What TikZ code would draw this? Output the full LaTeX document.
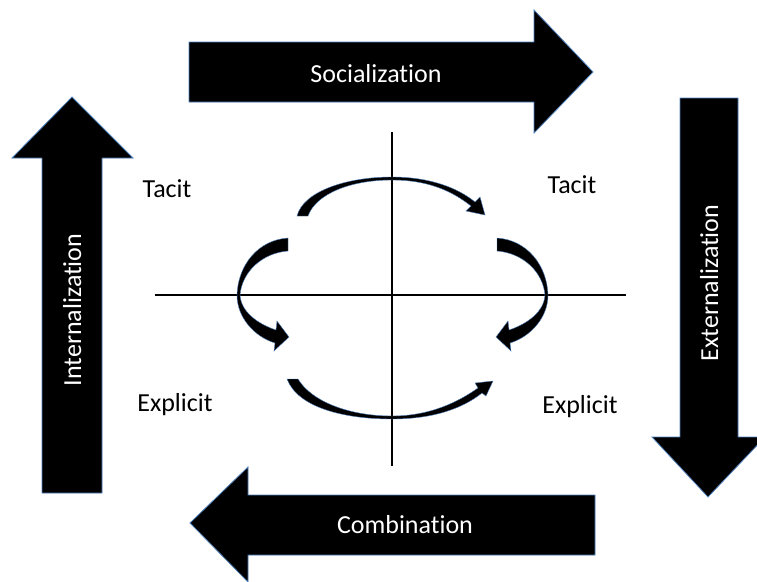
\documentclass[tikz,border=0pt]{standalone}
\usepackage{fontspec}
\setmainfont{Carlito}[Ligatures={NoCommon}]
\definecolor{edgeblue}{RGB}{79,129,189}
\tikzset{
  blockarrow/.style={fill=black, draw=edgeblue, line width=0.8pt, line join=miter},
  curl/.style={fill=black, draw=edgeblue, line width=0.4pt},
  lbl/.style={font=\fontsize{26}{31}\selectfont, anchor=base, inner sep=0pt},
  arrowlbl/.style={lbl, text=white},
  axis/.style={line width=1.3pt}
}
\begin{document}
\begin{tikzpicture}[x=1pt,y=-1pt]
    \useasboundingbox (0,0) rectangle (757,581);
    
    %Axes
    \coordinate (west) at (155,295);
    \coordinate (east) at (626,295);
    \coordinate (north) at (392,132);
    \coordinate (south) at (392,466);
    \draw[axis] (west) -- (east);
    \draw[axis] (north) -- (south);
    %Socialization
    \draw[blockarrow] (189,42) -- (534,42) -- (534,10) -- (593,72) -- (534,133) -- (534,102) -- (189,102) -- cycle;
    \node[arrowlbl] (soc) at (376,82) {Socialization};
    %Externalization
    \draw[blockarrow] (680,98) -- (738,98) -- (738,437) -- (765,437) -- (708,497) -- (652,437) -- (680,437) -- cycle;
    \node[arrowlbl, rotate=90] (ext) at (718,283) {Externalization};
    %Combination
    \draw[blockarrow] (595,495) -- (595,555) -- (248,555) -- (248,582) -- (190,523) -- (248,467) -- (248,495) -- cycle;
    \node[arrowlbl] (comb) at (405,533) {Combination};
    %Internalization
    \draw[blockarrow] (42,493) -- (42,158) -- (12,158) -- (72,97) -- (133,158) -- (102,158) -- (102,493) -- cycle;
    \node[arrowlbl, rotate=90] (int) at (81,310) {Internalization};
    %Labels
    \node[lbl] (tacitL) at (167,197) {Tacit};
    \node[lbl] (tacitR) at (572,193) {Tacit};
    \node[lbl] (explL) at (175,411) {Explicit};
    \node[lbl] (explR) at (580,413) {Explicit};
    %Top curl
    \draw[curl] (297,216) .. controls (303,192) and (345,177) .. (392,177) .. controls (430,177) and (458,188) .. (475,202) -- (480,197) -- (485,215) -- (466,211) -- (471,206) .. controls (452,191) and (428,180) .. (392,180) .. controls (350,180) and (316,194) .. (308,216) -- cycle;
    %Left curl
    \draw[curl] (288,238) .. controls (258,240) and (238,265) .. (237,295) .. controls (237,318) and (255,337) .. (275,343) -- (274,351) -- (289,337) -- (277,321) -- (276,330) .. controls (258,324) and (241,312) .. (240,295) .. controls (242,272) and (262,253) .. (288,251) -- cycle;
    %Right curl
    \draw[curl] (497,238) .. controls (527,240) and (547,265) .. (548,295) .. controls (548,318) and (530,337) .. (510,343) -- (511,351) -- (496,337) -- (508,321) -- (509,330) .. controls (527,324) and (544,312) .. (545,295) .. controls (543,272) and (523,253) .. (497,251) -- cycle;
    %Bottom curl
    \draw[curl] (287,379) -- (298,379) .. controls (312,402) and (350,416) .. (392,416) .. controls (430,416) and (458,402) .. (478,388) -- (475,383) -- (493,381) -- (486,396) -- (482,393) .. controls (462,409) and (432,419) .. (392,419) .. controls (345,419) and (298,408) .. (287,379) -- cycle;
\end{tikzpicture}
\end{document}
